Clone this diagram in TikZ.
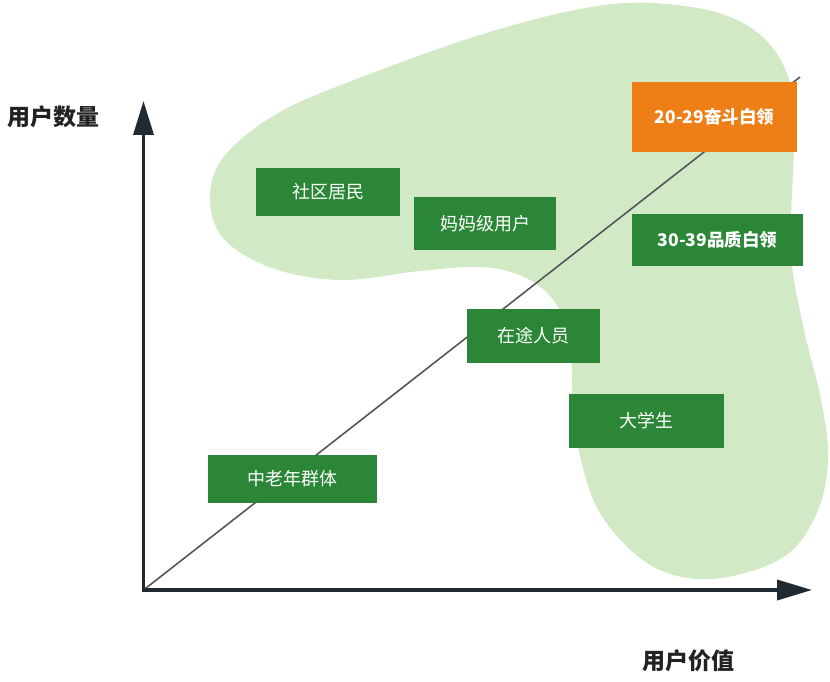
\documentclass[tikz,border=0pt]{standalone}
\usepackage{fontspec}
\setmainfont{Noto Sans CJK SC}
\usetikzlibrary{arrows.meta}
\definecolor{blobgreen}{HTML}{D1E9C5}
\definecolor{boxgreen}{HTML}{2B8737}
\definecolor{boxorange}{HTML}{EE7E16}
\definecolor{axiscol}{HTML}{1F2A33}
\definecolor{diagcol}{HTML}{55555C}
\definecolor{labelcol}{HTML}{222222}
\tikzset{
  seg/.style={fill=boxgreen, text=white, font=\fontsize{18}{21}\selectfont, inner sep=0pt, anchor=center},
  segbold/.style={seg, font=\fontsize{17.5}{21}\selectfont\bfseries},
  axislabel/.style={text=labelcol, font=\fontsize{23}{26}\selectfont\bfseries, inner sep=0pt},
}
\begin{document}
\begin{tikzpicture}[x=1pt,y=-1pt]
\useasboundingbox (0,0) rectangle (830,682);
% blob
\fill[blobgreen] plot[smooth cycle, tension=0.6] coordinates {
 (650,3) (725,15) (772,47) (794,100) (793,170) (791,255) (804,330) (821,400) (828,460)
 (816,515) (782,558) (712,579) (652,566) (603,518) (581,460) (573,400) (570,348)
 (556,304) (526,278) (482,267) (420,271) (341,280) (272,268) (223,238) (210,195)
 (226,154) (280,112) (362,77) (480,35) (580,9)};
% coordinates
\coordinate (O) at (143.5,590);
\coordinate (Ytip) at (143.5,101);
\coordinate (Xtip) at (812,590);
\coordinate (Dend) at (800,77);
% diagonal
\draw[diagcol, line width=1.6pt] (O) -- (Dend);
% axes
\draw[axiscol, line width=3.5pt, line join=miter,
  {Triangle[length=34pt,width=20pt]}-{Triangle[length=35pt,width=20pt]}]
  (Ytip) -- (O) -- (Xtip);
% boxes
\node[seg, minimum width=144pt, minimum height=48pt] (sq) at (328,192) {社区居民};
\node[seg, minimum width=142pt, minimum height=53pt] (mm) at (485,223.5) {妈妈级用户};
\node[segbold, fill=boxorange, minimum width=165pt, minimum height=70pt] (w20) at (714.5,117) {20-29奋斗白领};
\node[segbold, minimum width=171pt, minimum height=52pt] (w30) at (717.5,240) {30-39品质白领};
\node[seg, minimum width=133pt, minimum height=54pt] (zt) at (533.5,335.5) {在途人员};
\node[seg, minimum width=155pt, minimum height=54pt] (dx) at (646.5,421) {大学生};
\node[seg, minimum width=169pt, minimum height=48pt] (zl) at (292.5,479) {中老年群体};
% axis labels
\node[axislabel] (ylab) at (53,117) {用户数量};
\node[axislabel] (xlab) at (688,661) {用户价值};
\end{tikzpicture}
\end{document}
